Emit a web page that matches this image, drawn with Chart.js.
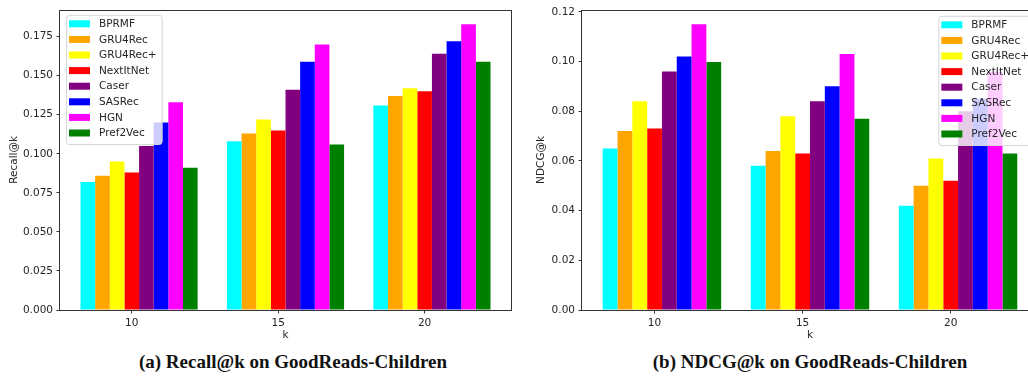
<!DOCTYPE html>
<html>
<head>
<meta charset="utf-8">
<script src="https://cdn.jsdelivr.net/npm/chart.js@4.4.0/dist/chart.umd.min.js"></script>
<style>
html, body { margin: 0; padding: 0; background: #fff; width: 1028px; height: 378px; overflow: hidden; }
.panel { position: absolute; top: 0; height: 345px; }
#left { left: 0; width: 515px; }
#right { left: 520px; width: 522px; }
.caption { position: absolute; top: 351px; font-family: "Liberation Serif", "Times New Roman", serif; font-weight: bold; font-size: 19px; color: #111; white-space: nowrap; transform: translateX(-50%); }
</style>
</head>
<body>
<div class="panel" id="left"><canvas id="recallChart"></canvas></div>
<div class="panel" id="right"><canvas id="ndcgChart"></canvas></div>
<div class="caption" style="left:293px">(a) Recall@k on GoodReads-Children</div>
<div class="caption" style="left:810px">(b) NDCG@k on GoodReads-Children</div>
<script>
// k values on the x axis
var kValues = [10, 15, 20];

// methods and their bar colours
var methods = ['BPRMF', 'GRU4Rec', 'GRU4Rec+', 'NextItNet', 'Caser', 'SASRec', 'HGN', 'Pref2Vec'];
var methodColors = ['#00ffff', '#ffa500', '#ffff00', '#ff0000', '#800080', '#0000ff', '#ff00ff', '#008000'];

// Recall@k, one row per method (k = 10, 15, 20)
var recallValues = [
  [0.082, 0.108, 0.131], // BPRMF
  [0.086, 0.113, 0.137], // GRU4Rec
  [0.095, 0.122, 0.142], // GRU4Rec+
  [0.088, 0.115, 0.140], // NextItNet
  [0.105, 0.141, 0.164], // Caser
  [0.120, 0.159, 0.172], // SASRec
  [0.133, 0.170, 0.183], // HGN
  [0.091, 0.106, 0.159]  // Pref2Vec
];

// NDCG@k, one row per method (k = 10, 15, 20)
var ndcgValues = [
  [0.065, 0.058, 0.042],
  [0.072, 0.064, 0.050],
  [0.084, 0.078, 0.061],
  [0.073, 0.063, 0.052],
  [0.096, 0.084, 0.080],
  [0.102, 0.090, 0.085],
  [0.115, 0.103, 0.096],
  [0.0998, 0.077, 0.063]
];

// y tick labels
var recallTicks = [0, 0.025, 0.05, 0.075, 0.1, 0.125, 0.15, 0.175];
var ndcgTicks = [0, 0.02, 0.04, 0.06, 0.08, 0.1, 0.12];

var textColor = '#262626';
var tickFont = { family: 'DejaVu Sans', size: 10.5 };

// matplotlib style box around the plot
var framePlugin = {
  id: 'frame',
  afterDatasetsDraw: function (chart) {
    var a = chart.chartArea, ctx = chart.ctx;
    ctx.save();
    ctx.strokeStyle = '#333';
    ctx.lineWidth = 1;
    ctx.strokeRect(Math.round(a.left) - 0.5, Math.round(a.top) + 0.5, Math.round(a.right - a.left) + 1, Math.round(a.bottom - a.top));
    ctx.restore();
  }
};

// legend drawn inside the plot, like matplotlib's
var insideLegend = {
  id: 'insideLegend',
  afterDatasetsDraw: function (chart, args, opts) {
    var ctx = chart.ctx, a = chart.chartArea;
    var sets = chart.data.datasets;
    ctx.save();
    ctx.font = '10.5px "DejaVu Sans"';
    var maxW = 0;
    sets.forEach(function (ds) { maxW = Math.max(maxW, ctx.measureText(ds.label).width); });
    var rowH = 15.6;
    var w = 33 + maxW + 5;
    var h = 9 + rowH * (sets.length - 1) + 11;
    var x0 = opts.side === 'right' ? a.right - 4 - w : a.left + 6;
    var y0 = a.top + (opts.side === 'right' ? 6 : 5);
    ctx.beginPath();
    if (ctx.roundRect) ctx.roundRect(x0 + 0.5, y0 + 0.5, w, h, 3);
    else ctx.rect(x0 + 0.5, y0 + 0.5, w, h);
    ctx.fillStyle = 'rgba(255,255,255,0.8)';
    ctx.fill();
    ctx.strokeStyle = '#d6d6d6';
    ctx.lineWidth = 1;
    ctx.stroke();
    ctx.textBaseline = 'middle';
    ctx.textAlign = 'left';
    sets.forEach(function (ds, i) {
      var cy = y0 + 9 + i * rowH;
      ctx.fillStyle = ds.backgroundColor;
      ctx.fillRect(x0 + 3, cy - 3.5, 21, 7);
      ctx.fillStyle = textColor;
      ctx.fillText(ds.label, x0 + 33, cy + 0.5);
    });
    ctx.restore();
  }
};

function makeChart(canvasId, rows, yTicks, yMax, decimals, yTitle, axisWidth, titlePad, legendSide) {
  var datasets = methods.map(function (name, i) {
    return {
      label: name,
      data: kValues.map(function (k, j) { return { x: k, y: rows[i][j] }; }),
      backgroundColor: methodColors[i],
      borderWidth: 0
    };
  });
  return new Chart(document.getElementById(canvasId).getContext('2d'), {
    type: 'bar',
    data: { datasets: datasets },
    options: {
      responsive: true,
      maintainAspectRatio: false,
      animation: false,
      layout: { padding: { left: 0, right: 4, top: 8, bottom: 0 } },
      datasets: { bar: { categoryPercentage: 0.8, barPercentage: 1 } },
      plugins: {
        legend: { display: false },
        tooltip: { enabled: false },
        insideLegend: { side: legendSide }
      },
      scales: {
        x: {
          type: 'linear',
          offset: false,
          min: kValues[0] - 2.7,
          max: kValues[kValues.length - 1] + 2.7,
          // ticks sit a little left of each group's centre, as in the original
          afterBuildTicks: function (axis) {
            axis.ticks = kValues.map(function (k) { return { value: k - 0.25 }; });
          },
          afterFit: function (axis) { axis.height = 35; },
          ticks: {
            callback: function (v, i) { return String(kValues[i]); },
            color: textColor, font: tickFont, padding: 3.5, maxRotation: 0
          },
          grid: { offset: false, drawOnChartArea: false, drawTicks: true, tickLength: 3.5, tickColor: '#333' },
          border: { display: false },
          title: { display: true, text: 'k', color: textColor, font: tickFont, padding: { top: 0, bottom: 3 } }
        },
        y: {
          min: 0,
          max: yMax,
          afterBuildTicks: function (axis) {
            axis.ticks = yTicks.map(function (v) { return { value: v }; });
          },
          afterFit: function (axis) { axis.width = axisWidth; },
          ticks: {
            callback: function (v) { return v.toFixed(decimals); },
            color: textColor, font: tickFont, padding: 3.5
          },
          grid: { drawOnChartArea: false, drawTicks: true, tickLength: 3.5, tickColor: '#333' },
          border: { display: false },
          title: { display: true, text: yTitle, color: textColor, font: tickFont, padding: { top: titlePad, bottom: 0 } }
        }
      }
    },
    plugins: [framePlugin, insideLegend]
  });
}

makeChart('recallChart', recallValues, recallTicks, 0.1922, 3, 'Recall@k', 60, 7.7, 'left');
makeChart('ndcgChart', ndcgValues, ndcgTicks, 0.1208, 2, 'NDCG@k', 62, 14.7, 'right');
</script>
</body>
</html>
